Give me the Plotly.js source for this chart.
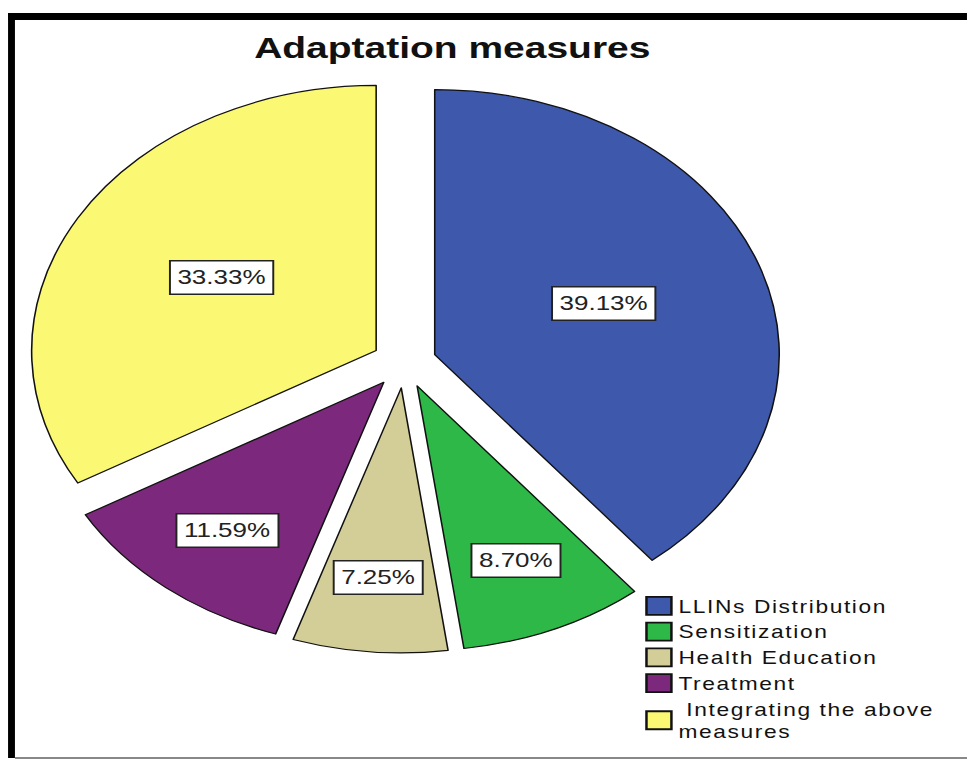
<!DOCTYPE html>
<html>
<head>
<meta charset="utf-8">
<script src="https://cdn.plot.ly/plotly-3.0.1.min.js"></script>
<style>
  html, body { margin: 0; padding: 0; background: #fff; }
  #wrap { width: 967px; height: 762px; overflow: hidden; position: relative; }
  #plot { width: 744px; height: 762px; transform: scaleX(1.2997); transform-origin: 0 0; }
  .legendtext { letter-spacing: 1.25px; }
  #plot .legendpoints path { transform-box: fill-box; transform-origin: center; transform: translate(25px, 0px) scale(1.6, 1.5); }
</style>
</head>
<body>
<div id="wrap"><div id="plot"></div></div>
<script>
// ---- data ----
const categories = ['LLINs Distribution', 'Sensitization', 'Health Education', 'Treatment', ' Integrating the above<br>measures'];
const percents = [39.13, 8.70, 7.25, 11.59, 33.33];
const colors = ['#3E58AC', '#2EB848', '#D3CE97', '#7C287D', '#FBF873'];
const chartTitle = 'Adaptation measures';

// ---- layout geometry (unscaled px) ----
const W = 744, H = 762;
const PCX = 311, PCY = 363, HALF = 290;
const PULL = 0.094;
const R = HALF / (1 + PULL);
const FONT = '"Liberation Sans", Arial, sans-serif';

const total = percents.reduce((a, b) => a + b, 0);
let cum = 0;
const annotations = percents.map((v, i) => {
  const mid = (cum + v / 2) / total * 2 * Math.PI;
  cum += v;
  const big = v > 20;
  const d = (PULL + (big ? 0.52 : 0.72)) * R;
  return {
    xref: 'paper', yref: 'paper',
    x: (PCX + d * Math.sin(mid)) / W,
    y: (H - PCY + d * Math.cos(mid)) / H + (big ? 0.006 : 0),
    xanchor: 'center', yanchor: 'middle',
    text: v.toFixed(2) + '%',
    showarrow: false,
    font: { family: FONT, size: 20, color: '#222' },
    bgcolor: '#ffffff', bordercolor: '#222', borderwidth: 1.5, borderpad: 5
  };
});

const trace = {
  type: 'pie',
  labels: categories,
  values: percents,
  sort: false,
  direction: 'clockwise',
  rotation: 0,
  pull: PULL,
  textinfo: 'none',
  hoverinfo: 'label+percent',
  marker: { colors: colors, line: { color: '#111', width: 1.2 } },
  domain: { x: [(PCX - HALF) / W, (PCX + HALF) / W], y: [(H - PCY - HALF) / H, (H - PCY + HALF) / H] }
};

const shapes = [
  { type: 'rect', xref: 'paper', yref: 'paper', x0: 6.2 / W, x1: 1, y0: 1 - 20 / H, y1: 1 - 13 / H, fillcolor: '#000', line: { width: 0 } },
  { type: 'rect', xref: 'paper', yref: 'paper', x0: 6.2 / W, x1: 11.5 / W, y0: 1 - 758 / H, y1: 1 - 13 / H, fillcolor: '#000', line: { width: 0 } },
  { type: 'line', xref: 'paper', yref: 'paper', x0: 11.5 / W, x1: 1, y0: 1 - 758 / H, y1: 1 - 758 / H, line: { color: '#888', width: 2 } }
];

const layout = {
  width: W, height: H,
  margin: { l: 0, r: 0, t: 0, b: 0 },
  paper_bgcolor: '#fff',
  title: {
    text: chartTitle,
    xref: 'container', yref: 'container',
    x: 348 / W, y: 1 - 48 / H, xanchor: 'center', yanchor: 'middle',
    font: { family: FONT, size: 30, color: '#111', weight: 'bold' }
  },
  showlegend: true,
  legend: {
    x: 482 / W, y: 1 - 588 / H, xanchor: 'left', yanchor: 'top',
    font: { family: FONT, size: 17.5, color: '#111' },
    bgcolor: 'rgba(0,0,0,0)', traceorder: 'normal'
  },
  annotations: annotations,
  shapes: shapes
};

Plotly.newPlot('plot', [trace], layout, { displayModeBar: false, staticPlot: true });
</script>
</body>
</html>
